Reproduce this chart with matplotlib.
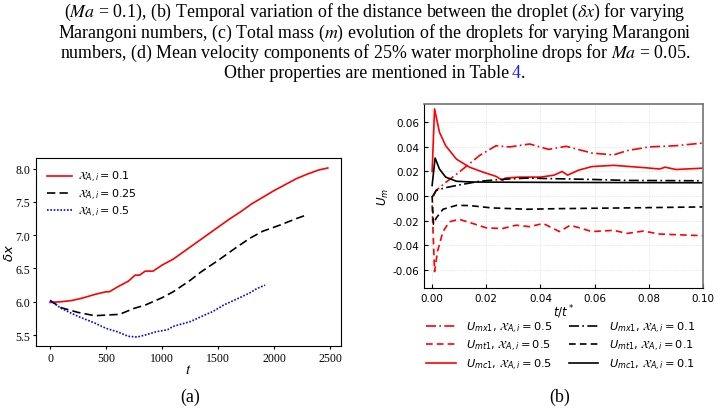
import numpy as np
import matplotlib
matplotlib.use("Agg")
import matplotlib.pyplot as plt

# ---------------- data ----------------
# (a) droplet separation vs time
t_r = [0, 100, 200, 300, 400, 500, 530, 600, 700, 760, 800, 850, 920, 1000, 1100, 1200,
       1300, 1400, 1500, 1600, 1700, 1800, 1900, 2000, 2100, 2200, 2300, 2400, 2480]
dx_r = [5.99, 6.00, 6.02, 6.06, 6.11, 6.15, 6.15, 6.22, 6.31, 6.40, 6.40, 6.46, 6.46, 6.55,
        6.64, 6.76, 6.88, 7.00, 7.12, 7.24, 7.35, 7.47, 7.57, 7.67, 7.76, 7.85, 7.92, 7.98, 8.01]

t_k = [0, 100, 250, 400, 500, 620, 750, 850, 1000, 1100, 1250, 1350, 1500, 1650, 1780,
       1900, 2050, 2200, 2300]
dx_k = [6.02, 5.91, 5.84, 5.79, 5.80, 5.81, 5.90, 5.95, 6.06, 6.15, 6.32, 6.45, 6.62, 6.80,
        6.95, 7.06, 7.15, 7.25, 7.31]

t_b = [0, 100, 250, 400, 500, 600, 700, 780, 850, 950, 1050, 1100, 1250, 1380, 1450, 1550,
       1680, 1780, 1850, 1920]
dx_b = [6.02, 5.90, 5.78, 5.68, 5.60, 5.55, 5.48, 5.47, 5.50, 5.55, 5.58, 5.63, 5.70, 5.80,
        5.85, 5.95, 6.05, 6.13, 6.20, 6.25]

labels_a = [r"$\mathcal{X}_{A,i} = 0.1$", r"$\mathcal{X}_{A,i} = 0.25$", r"$\mathcal{X}_{A,i} = 0.5$"]

# (b) mean velocity components
x_mx05 = [0.0005, 0.0015, 0.005, 0.010, 0.0175, 0.0236, 0.0286, 0.036, 0.043, 0.0495, 0.059,
          0.067, 0.072, 0.080, 0.090, 0.100]
u_mx05 = [0.000, 0.0046, 0.011, 0.0195, 0.033, 0.041, 0.040, 0.0424, 0.038, 0.0405, 0.035,
          0.0335, 0.037, 0.040, 0.041, 0.0432]

x_mt05 = [0.0, 0.0009, 0.002, 0.004, 0.0064, 0.010, 0.015, 0.020, 0.026, 0.031, 0.036, 0.041,
          0.047, 0.051, 0.059, 0.067, 0.072, 0.078, 0.084, 0.100]
u_mt05 = [-0.0076, -0.0616, -0.045, -0.029, -0.021, -0.019, -0.0224, -0.026, -0.0265, -0.0238,
          -0.025, -0.0224, -0.029, -0.0238, -0.029, -0.028, -0.0305, -0.0286, -0.031, -0.0324]

x_mc05 = [0.0, 0.0009, 0.0027, 0.005, 0.009, 0.0138, 0.0187, 0.0236, 0.026, 0.027, 0.032,
          0.040, 0.045, 0.048, 0.050, 0.054, 0.059, 0.067, 0.073, 0.079, 0.084, 0.086, 0.090, 0.100]
u_mc05 = [0.020, 0.071, 0.052, 0.041, 0.030, 0.0235, 0.0195, 0.016, 0.0127, 0.0146, 0.0154,
          0.0154, 0.017, 0.020, 0.017, 0.021, 0.024, 0.025, 0.024, 0.023, 0.022, 0.0235, 0.0216, 0.0227]

x_mx01 = [0.0, 0.0015, 0.005, 0.010, 0.0175, 0.025, 0.035, 0.047, 0.059, 0.072, 0.100]
u_mx01 = [-0.001, 0.0046, 0.0068, 0.009, 0.012, 0.0135, 0.0146, 0.014, 0.0135, 0.0127, 0.0124]

x_mt01 = [0.0, 0.0005, 0.0015, 0.004, 0.009, 0.0138, 0.022, 0.035, 0.047, 0.072, 0.100]
u_mt01 = [0.0, -0.023, -0.018, -0.0108, -0.0076, -0.0078, -0.0097, -0.0108, -0.0103, -0.0097, -0.0089]

x_mc01 = [0.0, 0.0011, 0.0027, 0.005, 0.009, 0.015, 0.030, 0.060, 0.100]
u_mc01 = [0.0086, 0.031, 0.022, 0.0154, 0.012, 0.0114, 0.0112, 0.011, 0.0108]

labels_b = [r"$U_{mx1}$, $\mathcal{X}_{A,i} = 0.5$", r"$U_{mt1}$, $\mathcal{X}_{A,i} = 0.5$",
            r"$U_{mc1}$, $\mathcal{X}_{A,i} = 0.5$", r"$U_{mx1}$, $\mathcal{X}_{A,i} = 0.1$",
            r"$U_{mt1}$, $\mathcal{X}_{A,i} = 0.1$", r"$U_{mc1}$, $\mathcal{X}_{A,i} = 0.1$"]

caption = [r"($Ma$ = 0.1), (b) Temporal variation of the distance between the droplet ($\delta x$) for varying",
           r"Marangoni numbers, (c) Total mass ($m$) evolution of the droplets for varying Marangoni",
           r"numbers, (d) Mean velocity components of 25% water morpholine drops for $Ma$ = 0.05."]

# ---------------- figure ----------------
fig = plt.figure(figsize=(7.2, 4.1), dpi=100)
serif = "Liberation Serif"
capsize = 12.9

# caption lines
cap_y = [12, 33, 53]
for line, y in zip(caption, cap_y):
    fig.text(375 / 720, 1 - y / 410, line, ha="center", va="center", fontsize=capsize,
             family=serif, math_fontfamily="stix")
t1 = fig.text(509 / 720, 1 - 74 / 410, "Other properties are mentioned in Table", ha="right",
              va="center", fontsize=capsize, family=serif)
t2 = fig.text(512 / 720, 1 - 74 / 410, "4", ha="left", va="center", fontsize=capsize,
              family=serif, color="#1a1aff")
fig.text(521 / 720, 1 - 74 / 410, ".", ha="left", va="center", fontsize=capsize, family=serif)

# ---- panel (a)
ax1 = fig.add_axes([36 / 720, 1 - 347 / 410, 305 / 720, 188 / 410])
ax1.plot(t_r, dx_r, color="red", lw=1.2, label=labels_a[0])
ax1.plot(t_k, dx_k, color="black", lw=1.2, ls=(0, (5, 2.5)), label=labels_a[1])
ax1.plot(t_b, dx_b, color="blue", lw=1.2, ls=(0, (1, 1)), label=labels_a[2])
ax1.set_xlim(-125, 2598)
ax1.set_ylim(5.335, 8.16)
ax1.set_xticks([0, 500, 1000, 1500, 2000, 2500])
ax1.set_yticks([5.5, 6.0, 6.5, 7.0, 7.5, 8.0])
ax1.tick_params(labelsize=8.5, length=2.5, width=0.8, pad=1.5)
for lab in ax1.get_xticklabels() + ax1.get_yticklabels():
    lab.set_family(serif)
ax1.set_xlabel(r"$t$", fontsize=11, math_fontfamily="stix", labelpad=-2)
ax1.set_ylabel(r"$\delta x$", fontsize=9.5, labelpad=0)
ax1.legend(loc="upper left", frameon=False, fontsize=8, handlelength=2.2,
           handletextpad=0.6, labelspacing=0.2, borderaxespad=0.6)
fig.text(190 / 720, 1 - 397 / 410, "(a)", ha="center", va="center", fontsize=capsize, family=serif)

# ---- panel (b)
ax2 = fig.add_axes([424 / 720, 1 - 289 / 410, 279 / 720, 184 / 410])
ax2.plot(x_mx05, u_mx05, color="red", lw=1.2, ls=(0, (6, 2, 1, 2)), label=labels_b[0])
ax2.plot(x_mt05, u_mt05, color="red", lw=1.2, ls=(0, (4, 2.5)), label=labels_b[1])
ax2.plot(x_mc05, u_mc05, color="red", lw=1.2, label=labels_b[2])
ax2.plot(x_mx01, u_mx01, color="black", lw=1.2, ls=(0, (6, 2, 1, 2)), label=labels_b[3])
ax2.plot(x_mt01, u_mt01, color="black", lw=1.2, ls=(0, (4, 2.5)), label=labels_b[4])
ax2.plot(x_mc01, u_mc01, color="black", lw=1.2, label=labels_b[5])
ax2.set_xlim(-0.003, 0.10)
ax2.set_ylim(-0.075, 0.075)
ax2.set_xticks([0.0, 0.02, 0.04, 0.06, 0.08, 0.10])
ax2.set_yticks([-0.06, -0.04, -0.02, 0.0, 0.02, 0.04, 0.06])
ax2.xaxis.set_major_formatter(matplotlib.ticker.FormatStrFormatter("%.2f"))
ax2.yaxis.set_major_formatter(matplotlib.ticker.FormatStrFormatter("%.2f"))
ax2.tick_params(direction="in", labelsize=7.5, length=3, width=0.8)
ax2.grid(True, color="0.85", ls=":", lw=0.6)
for side in ["top", "right"]:
    ax2.spines[side].set_color("0.45")
    ax2.spines[side].set_linewidth(1.2)
ax2.set_xlabel(r"$t/t^*$", fontsize=8.5, labelpad=0)
ax2.set_ylabel(r"$U_m$", fontsize=8.5, labelpad=1)
ax2.legend(loc="upper center", bbox_to_anchor=(0.49, -0.115), ncol=2, frameon=False,
           fontsize=8.2, handlelength=2.6, handletextpad=0.9, columnspacing=1.4,
           labelspacing=0.3)
fig.text(560 / 720, 1 - 397 / 410, "(b)", ha="center", va="center", fontsize=capsize, family=serif)

fig.savefig("out.png", dpi=100)
